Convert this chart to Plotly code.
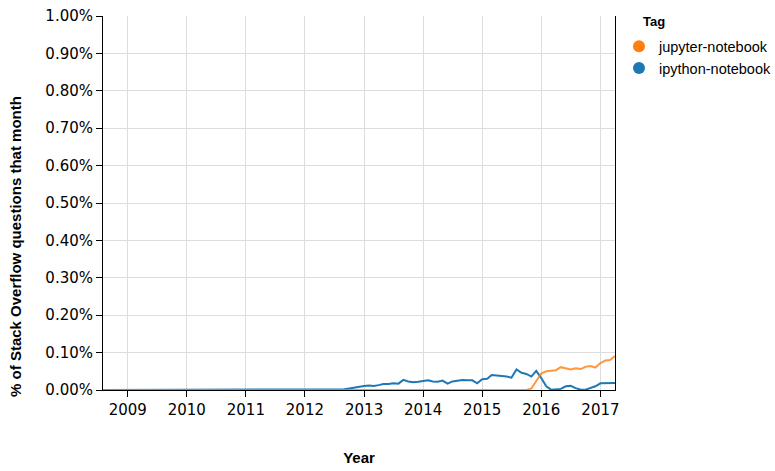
import pandas as pd
import plotly.graph_objs as go

# monthly share of Stack Overflow questions (%), Aug 2008 .. Apr 2017
months = pd.date_range("2008-08-01", "2017-04-01", freq="MS")

ipython_notebook = [0.0] * 48 + [
    0.001, 0.002, 0.004, 0.007, 0.009,
    0.011, 0.012, 0.011, 0.013, 0.016, 0.016, 0.018, 0.017, 0.027, 0.023, 0.021, 0.022,
    0.023, 0.026, 0.023, 0.022, 0.025, 0.017, 0.023, 0.026, 0.027, 0.026, 0.026, 0.018,
    0.029, 0.030, 0.040, 0.039, 0.038, 0.036, 0.033, 0.055, 0.046, 0.043, 0.036, 0.051,
    0.032, 0.010, 0.001, 0.001, 0.003, 0.010, 0.011, 0.005, 0.001, 0.001, 0.005, 0.010,
    0.018, 0.018, 0.017, 0.019,
]

jupyter_notebook = [0.0] * 87 + [
    0.004, 0.025,
    0.044, 0.050, 0.052, 0.053, 0.061, 0.058, 0.055, 0.058, 0.056, 0.062, 0.064, 0.060,
    0.072, 0.079, 0.080, 0.091,
]

tags = ["jupyter-notebook", "ipython-notebook"]
colors = {"jupyter-notebook": "#ff7f0e", "ipython-notebook": "#1f77b4"}
series = {"jupyter-notebook": jupyter_notebook, "ipython-notebook": ipython_notebook}

fig = go.Figure()
# lines (blue drawn first, orange on top, a bit see-through like the original)
for tag in ["ipython-notebook", "jupyter-notebook"]:
    fig.add_trace(go.Scatter(x=months, y=series[tag], mode="lines", name=tag,
                             line=dict(color=colors[tag], width=2), showlegend=False,
                             opacity=0.8 if tag == "jupyter-notebook" else 1))
# circle legend entries
for tag in tags:
    fig.add_trace(go.Scatter(x=[None], y=[None], mode="markers", name=tag,
                             marker=dict(color=colors[tag], size=12)))

grid = "#dddddd"
fig.update_layout(
    width=775, height=471,
    margin=dict(l=103, r=160, t=16, b=81, autoexpand=False),
    plot_bgcolor="white", paper_bgcolor="white",
    font=dict(family="DejaVu Sans", size=15, color="black"),
    xaxis=dict(
        type="date", range=["2008-08-01", "2017-04-01"],
        tick0="2009-01-01", dtick="M12", tickformat="%Y",
        showgrid=True, gridcolor=grid, gridwidth=1,
        showline=True, linecolor="black", linewidth=1,
        ticks="outside", ticklen=6, tickcolor="black",
        title=dict(text="<b>Year</b>", standoff=34,
                   font=dict(family="Liberation Sans", size=15)),
    ),
    yaxis=dict(
        range=[0, 1.0], dtick=0.1, tickformat=".2f", ticksuffix="%",
        showgrid=True, gridcolor=grid, gridwidth=1,
        showline=True, linecolor="black", linewidth=1, mirror=True,
        ticks="outside", ticklen=6, tickcolor="black",
        zeroline=False,
    ),
    legend=dict(x=1.0078, xanchor="left", y=0.962, yanchor="top",
                font=dict(family="Liberation Sans", size=14.5),
                bgcolor="rgba(0,0,0,0)"),
    annotations=[
        dict(text="<b>% of Stack Overflow questions that month</b>", textangle=-90,
             xref="paper", yref="paper", x=-0.172, y=0.385,
             xanchor="center", yanchor="middle", showarrow=False,
             font=dict(family="Liberation Sans", size=15)),
        dict(text="<b>Tag</b>", xref="paper", yref="paper", x=1.05, y=0.984,
             xanchor="left", yanchor="middle", showarrow=False,
             font=dict(family="Liberation Sans", size=13)),
    ],
)

# page margin would push the fixed-size figure off the window
fig.write_html("out.html", config={"displayModeBar": False},
               post_script="document.body.style.margin='0px';")
